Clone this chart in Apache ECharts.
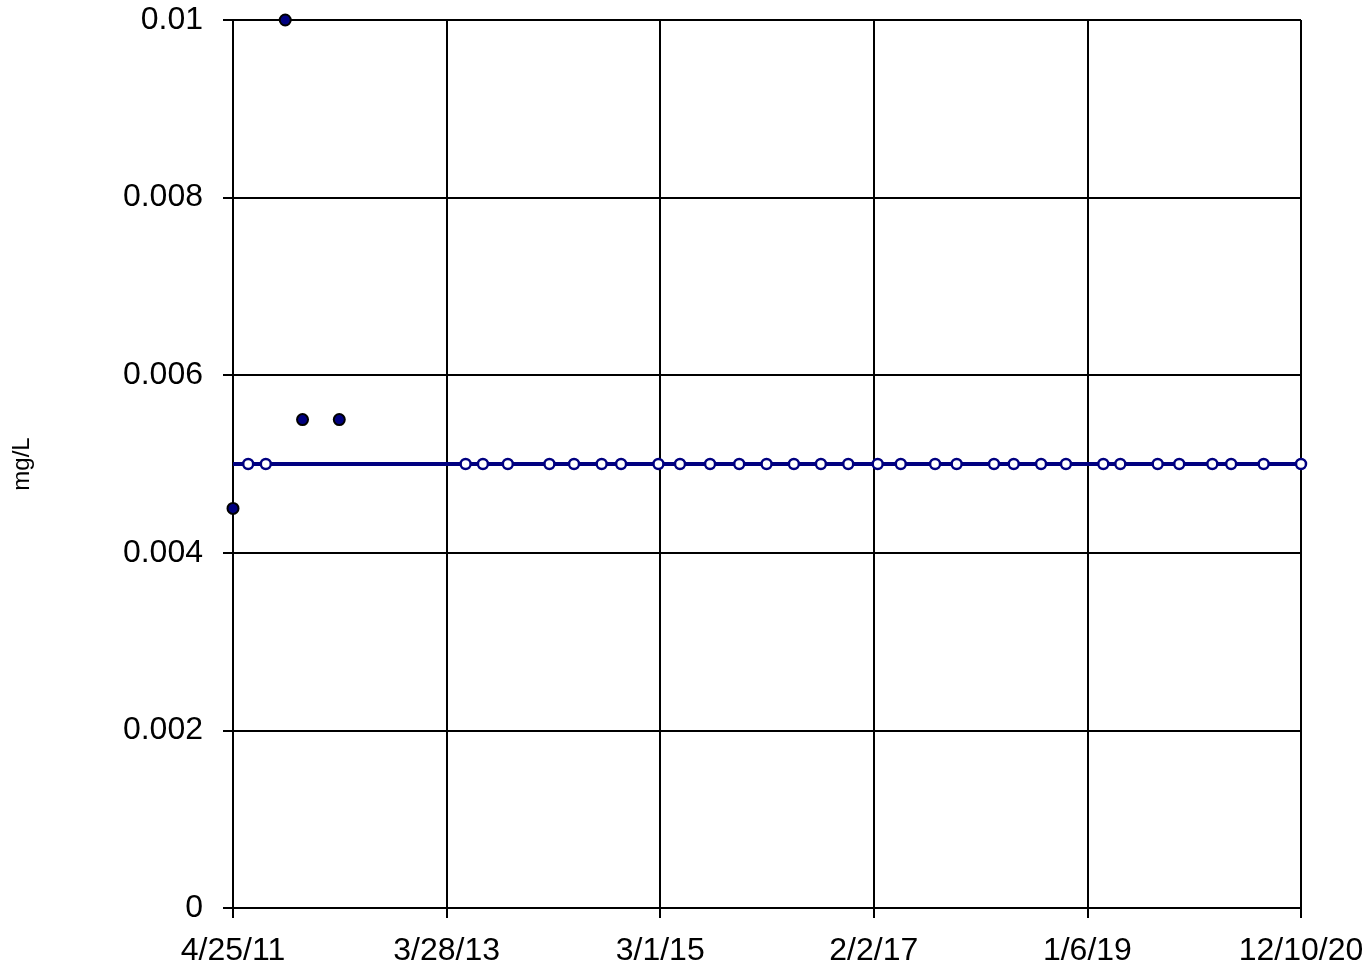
<!DOCTYPE html>
<html>
<head>
<meta charset="utf-8">
<script src="https://cdn.jsdelivr.net/npm/echarts@6/dist/echarts.min.js"></script>
<style>
html,body{margin:0;padding:0;background:#fff;}
#chart{width:1372px;height:969px;}
</style>
</head>
<body>
<div id="chart"></div>
<script>
// ---- data ----
const startDate = '2011-04-25';
const endDate = '2020-12-10';
const xTickIntervalDays = 703.4;
const yTicks = [0, 0.002, 0.004, 0.006, 0.008, 0.01];

// detected results (filled markers)
const detectDates = ['2011-04-25', '2011-10-14', '2011-12-10', '2012-04-09'];
const detectValues = [0.0045, 0.01, 0.0055, 0.0055];

// non-detects plotted at reporting limit (open markers)
const ndDates = ['2011-06-14', '2011-08-11', '2013-05-30', '2013-07-26', '2013-10-16',
  '2014-03-02', '2014-05-22', '2014-08-21', '2014-10-24', '2015-02-24', '2015-05-06',
  '2015-08-13', '2015-11-17', '2016-02-15', '2016-05-15', '2016-08-12', '2016-11-10',
  '2017-02-15', '2017-05-02', '2017-08-23', '2017-11-02', '2018-03-05', '2018-05-09',
  '2018-08-07', '2018-10-28', '2019-02-28', '2019-04-25', '2019-08-26', '2019-11-05',
  '2020-02-22', '2020-04-24', '2020-08-09', '2020-12-10'];
const ndValues = ndDates.map(() => 0.005);

// reporting-limit line
const limitDates = ['2011-04-25', '2020-12-10'];
const limitValues = [0.005, 0.005];

// ---- helpers ----
const DAY = 86400000;
function toUTC(s){ const p = s.split('-').map(Number); return Date.UTC(p[0], p[1]-1, p[2]); }
const base = toUTC(startDate);
function dayOf(s){ return Math.round((toUTC(s) - base) / DAY); }
function fmtDate(v){
  const d = new Date(base + Math.floor(v + 1e-6) * DAY);
  return (d.getUTCMonth()+1) + '/' + d.getUTCDate() + '/' + String(d.getUTCFullYear()).slice(2);
}
function pairs(dates, vals){ return dates.map((d,i) => [dayOf(d), vals[i]]); }

const chart = echarts.init(document.getElementById('chart'), null, {renderer:'canvas'});
const font = 'Liberation Sans, Arial, sans-serif';
chart.setOption({
  animation: false,
  backgroundColor: '#ffffff',
  grid: {left: 233, right: 71, top: 20, bottom: 61, containLabel: false},
  xAxis: {
    type: 'value',
    min: 0,
    max: dayOf(endDate),
    interval: xTickIntervalDays,
    axisLine: {show: true, onZero: false, lineStyle: {color: '#000', width: 2}},
    axisTick: {show: true, inside: false, length: 10, lineStyle: {color: '#000', width: 2}},
    axisLabel: {color: '#000', fontSize: 32, fontFamily: font, margin: 27,
      formatter: v => fmtDate(v), showMinLabel: true, showMaxLabel: true, hideOverlap: false},
    splitLine: {show: true, lineStyle: {color: '#000', width: 2}}
  },
  yAxis: {
    type: 'value',
    min: yTicks[0],
    max: yTicks[yTicks.length-1],
    interval: yTicks[1] - yTicks[0],
    name: 'mg/L',
    nameLocation: 'middle',
    nameGap: 199,
    nameRotate: 90,
    nameTextStyle: {color: '#000', fontSize: 24, fontFamily: font},
    axisLine: {show: true, lineStyle: {color: '#000', width: 2}},
    axisTick: {show: true, inside: false, length: 10, lineStyle: {color: '#000', width: 2}},
    axisLabel: {color: '#000', fontSize: 32, fontFamily: font, margin: 30,
      formatter: v => String(+v.toFixed(4))},
    splitLine: {show: true, lineStyle: {color: '#000', width: 2}}
  },
  series: [
    {
      type: 'line',
      data: pairs(limitDates, limitValues),
      showSymbol: false,
      symbol: 'none',
      lineStyle: {color: '#000080', width: 4},
      z: 3
    },
    {
      type: 'scatter',
      data: pairs(ndDates, ndValues),
      symbol: 'circle',
      symbolSize: 10,
      itemStyle: {color: '#ffffff', borderColor: '#000080', borderWidth: 2.5, opacity: 1},
      clip: false,
      z: 4
    },
    {
      type: 'scatter',
      data: pairs(detectDates, detectValues),
      symbol: 'circle',
      symbolSize: 11,
      itemStyle: {color: '#000080', borderColor: '#000000', borderWidth: 2, opacity: 1},
      clip: false,
      z: 5
    }
  ]
});
</script>
</body>
</html>
